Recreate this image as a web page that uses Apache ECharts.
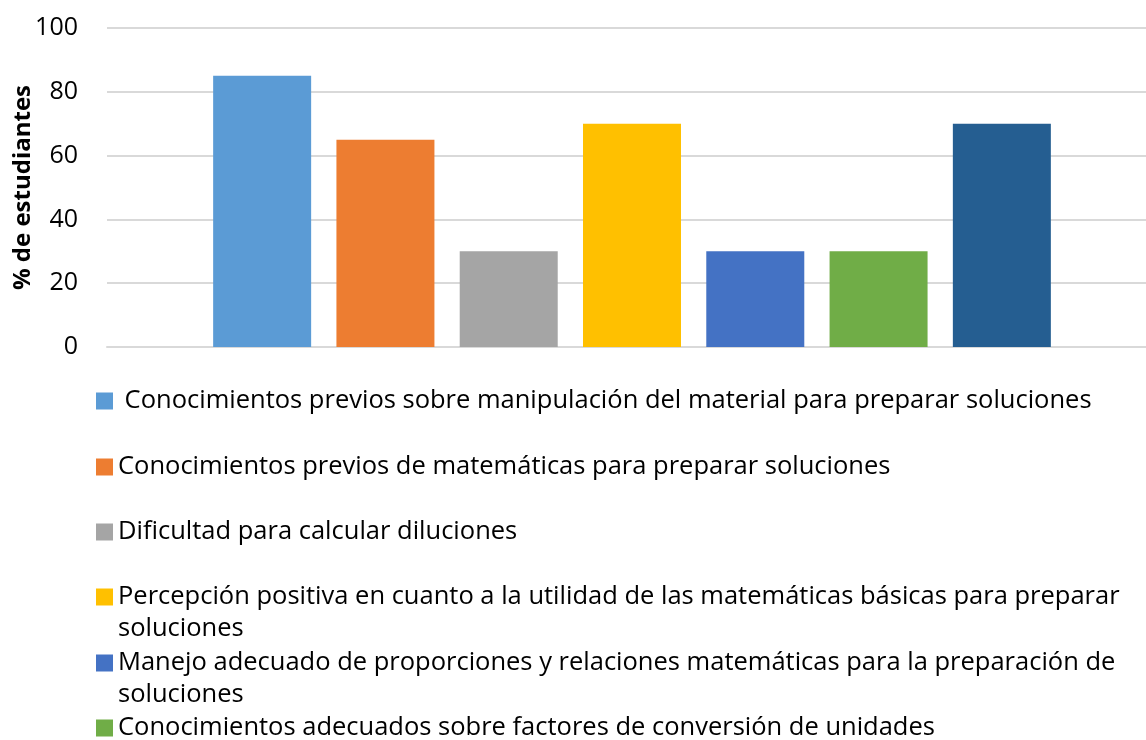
<!DOCTYPE html>
<html>
<head>
<meta charset="utf-8">
<title>% de estudiantes</title>
<script src="https://cdn.jsdelivr.net/npm/echarts@6/dist/echarts.min.js"></script>
<style>
  html, body { margin: 0; padding: 0; background: #ffffff; }
  #chart { width: 1146px; height: 740px; }
</style>
</head>
<body>
<div id="chart"></div>
<script>
// Survey categories (one bar each) and their share of students, in %
const categories = [
  ' Conocimientos previos sobre manipulación del material para preparar soluciones',
  'Conocimientos previos de matemáticas para preparar soluciones',
  'Dificultad para calcular diluciones',
  'Percepción positiva en cuanto a la utilidad de las matemáticas básicas para preparar soluciones',
  'Manejo adecuado de proporciones y relaciones matemáticas para la preparación de soluciones',
  'Conocimientos adecuados sobre factores de conversión de unidades',
  'Serie 7'
];
const values = [85, 65, 30, 70, 30, 30, 70];
const colors = ['#5B9BD5', '#ED7D31', '#A5A5A5', '#FFC000', '#4472C4', '#70AD47', '#255E91'];
const yTicks = { min: 0, max: 100, interval: 20 };
const yAxisTitle = '% de estudiantes';

const FONT = '"Open Sans", Lato, "Noto Sans", sans-serif';
const LEGEND_SIZE = 25.5;
const LINE_H = 31.5;
const WRAP_W = 1060;

// Text width helper, used to know which legend labels wrap onto a second line
const measureCtx = document.createElement('canvas').getContext('2d');
function textWidth(str, size) {
  measureCtx.font = size + 'px ' + FONT;
  return measureCtx.measureText(str).width;
}

// One bar series per category, all sharing a single slot on the x axis
const series = categories.map((name, i) => ({
  name: name,
  type: 'bar',
  data: [values[i]],
  barWidth: 98,
  barGap: '25.8%',
  itemStyle: { color: colors[i] },
  emphasis: { disabled: true }
}));

// Legend entries stacked down the page; the square sits level with the first text line
const legendRows = [401, 467, 532, 597, 663, 728];
const legends = legendRows.map((cy, i) => {
  const wraps = textWidth(categories[i], LEGEND_SIZE) > WRAP_W;
  const lines = wraps ? 3 : 1; // a blank leading line keeps the first line centred on the square
  return {
    data: [categories[i]],
    orient: 'vertical',
    left: 96,
    top: cy - 8.5 - (lines * LINE_H - 17) / 2,
    padding: 0,
    itemWidth: 17,
    itemHeight: 17,
    icon: 'rect',
    selectedMode: false,
    formatter: wraps ? (n => '\n' + n) : (n => n),
    textStyle: {
      fontFamily: FONT,
      fontSize: LEGEND_SIZE,
      color: '#000000',
      lineHeight: LINE_H,
      width: WRAP_W,
      overflow: 'break'
    }
  };
});

const chart = echarts.init(document.getElementById('chart'), null, { renderer: 'canvas' });
chart.setOption({
  animation: false,
  backgroundColor: '#ffffff',
  textStyle: { fontFamily: FONT },
  grid: { left: 107, right: -11, top: 28, bottom: 393, containLabel: false, outerBoundsMode: 'none' },
  legend: legends,
  xAxis: {
    type: 'category',
    data: [''],
    axisLine: { show: true, lineStyle: { color: '#d9d9d9', width: 2 } },
    axisTick: { show: false },
    axisLabel: { show: false },
    splitLine: { show: false }
  },
  yAxis: {
    type: 'value',
    min: yTicks.min,
    max: yTicks.max,
    interval: yTicks.interval,
    name: yAxisTitle,
    nameLocation: 'middle',
    nameGap: 72,
    nameMoveOverlap: false,
    nameTextStyle: { fontFamily: FONT, fontSize: 24, fontWeight: 'bold', color: '#000000' },
    axisLine: { show: false },
    axisTick: { show: false },
    axisLabel: { fontFamily: FONT, fontSize: 25, color: '#000000', margin: 29 },
    splitLine: { lineStyle: { color: '#d9d9d9', width: 2 } }
  },
  series: series
});
</script>
</body>
</html>
